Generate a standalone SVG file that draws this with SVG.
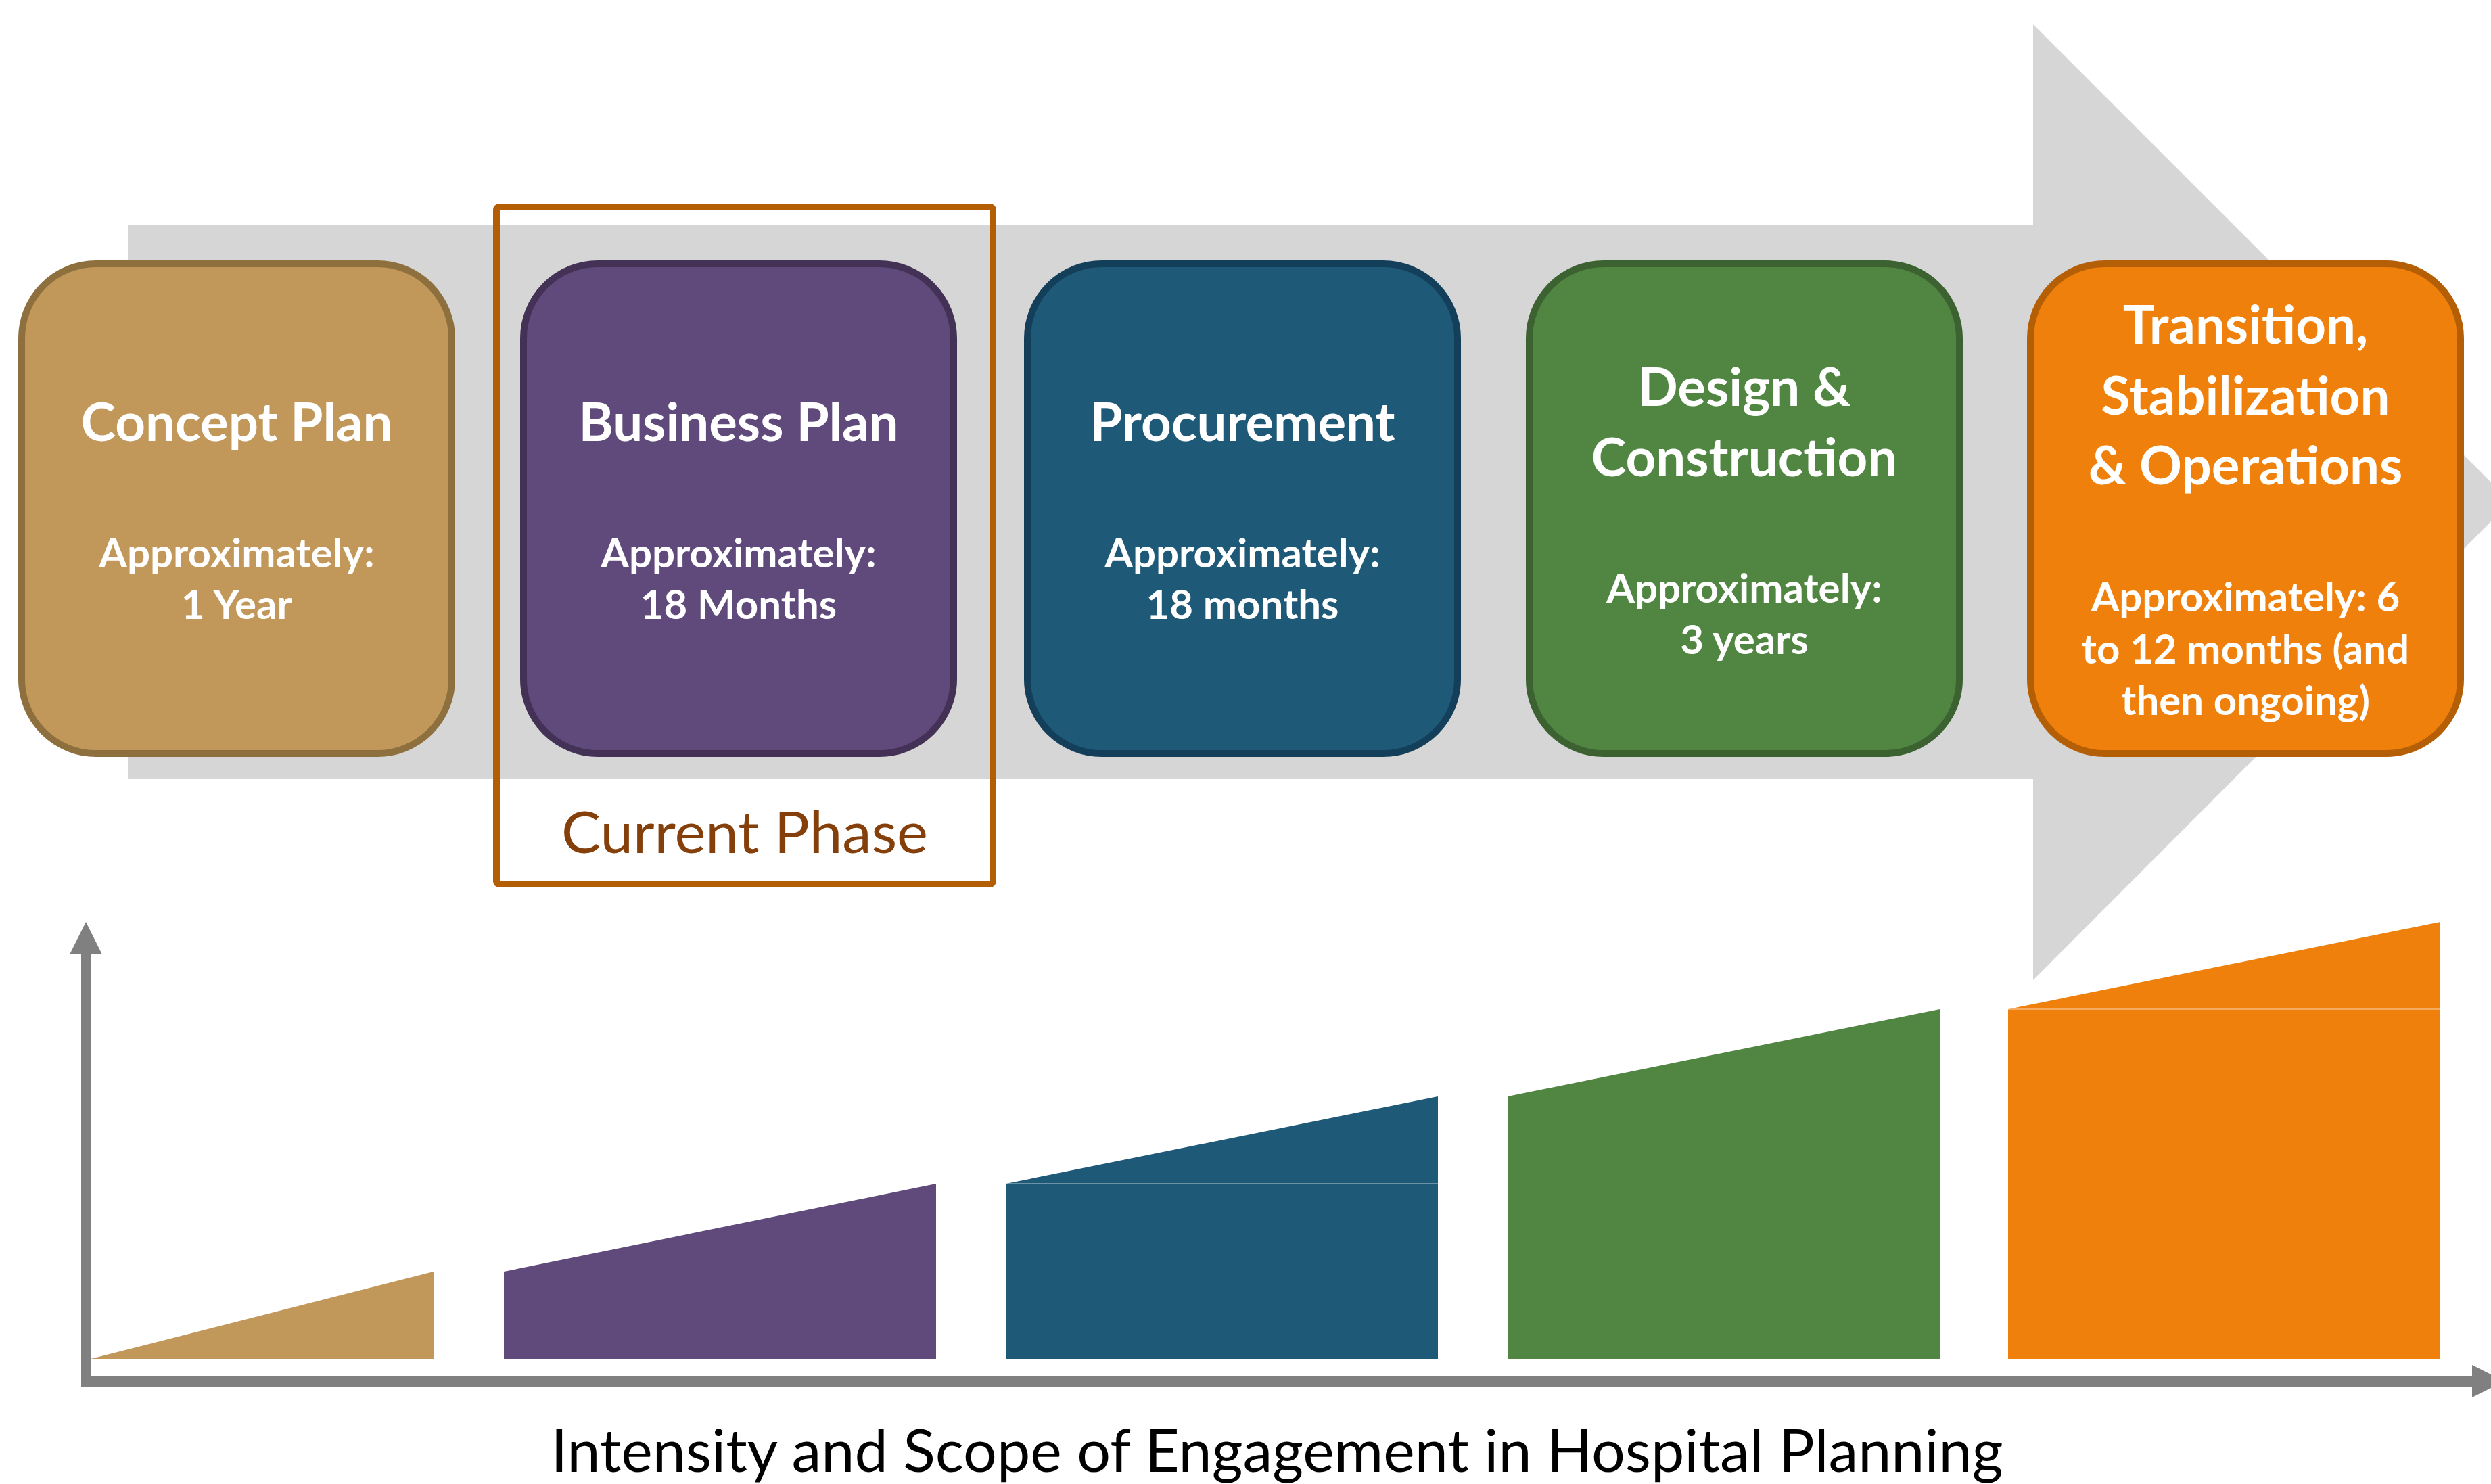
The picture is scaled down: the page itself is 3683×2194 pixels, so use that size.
<svg xmlns="http://www.w3.org/2000/svg" width="3683" height="2194" viewBox="0 0 3683 2194">
<style>
.box{stroke-width:10}
.t{font-family:Lato,"Open Sans","Liberation Sans",sans-serif;font-weight:700;fill:#ffffff;text-anchor:middle}
.h{font-size:78px}
.s{font-size:60px}
.axis{fill:#808080}
.seam{stroke:#ffffff;stroke-opacity:0.35;stroke-width:2}
</style>
<rect width="3683" height="2194" fill="#ffffff"/>
<g id="flow-arrow">
<polygon points="189,333 3006,333 3006,36 3712,742 3006,1449 3006,1151 189,1151" fill="#d6d6d6"/>
</g>
<g id="current-phase">
<rect x="734" y="306" width="734" height="1001" rx="4" fill="none" stroke="#b35d05" stroke-width="10"/>
<text x="1101" y="1261" font-family="Lato,'Open Sans','Liberation Sans',sans-serif" font-size="86" fill="#843f0a" text-anchor="middle" textLength="542" lengthAdjust="spacingAndGlyphs">Current Phase</text>
</g>
<g id="concept-plan">
<rect class="box" x="32" y="390" width="636" height="724" rx="110" fill="#c19859" stroke="#8e6f3e"/>
<text class="t h" x="350" y="652">Concept Plan</text>
<text class="t s" x="350" y="839">Approximately:</text>
<text class="t s" x="350" y="915">1 Year</text>
</g>
<g id="business-plan">
<rect class="box" x="774" y="390" width="636" height="724" rx="110" fill="#604a7b" stroke="#433256"/>
<text class="t h" x="1092" y="652">Business Plan</text>
<text class="t s" x="1092" y="839">Approximately:</text>
<text class="t s" x="1092" y="915">18 Months</text>
</g>
<g id="procurement">
<rect class="box" x="1519" y="390" width="636" height="724" rx="110" fill="#1f5978" stroke="#143f5a"/>
<text class="t h" x="1837" y="652">Procurement</text>
<text class="t s" x="1837" y="839">Approximately:</text>
<text class="t s" x="1837" y="915">18 months</text>
</g>
<g id="design-construction">
<rect class="box" x="2261" y="390" width="636" height="724" rx="110" fill="#508642" stroke="#3b6230"/>
<text class="t h" x="2579" y="600">Design &amp;</text>
<text class="t h" x="2579" y="704">Construction</text>
<text class="t s" x="2579" y="891">Approximately:</text>
<text class="t s" x="2579" y="967">3 years</text>
</g>
<g id="transition">
<rect class="box" x="3002" y="390" width="636" height="724" rx="110" fill="#ef800c" stroke="#b45f06"/>
<text class="t h" x="3320" y="508">Transition,</text>
<text class="t h" x="3320" y="613">Stabilization</text>
<text class="t h" x="3320" y="716">&amp; Operations</text>
<text class="t s" x="3320" y="904">Approximately: 6</text>
<text class="t s" x="3320" y="981">to 12 months (and</text>
<text class="t s" x="3320" y="1057">then ongoing)</text>
</g>
<g id="bars">
<polygon points="134,2009 641,1880 641,2009" fill="#c19859"/>
<polygon points="745,2009 745,1880 1384,1750 1384,2009" fill="#604a7b"/>
<rect x="1487" y="1750" width="639" height="259" fill="#1f5978"/>
<polygon points="1487,1750 2126,1621 2126,1750" fill="#1f5978"/>
<line class="seam" x1="1487" y1="1750" x2="2126" y2="1750"/>
<polygon points="2229,2009 2229,1621 2868,1492 2868,2009" fill="#508642"/>
<rect x="2969" y="1492" width="639" height="517" fill="#ef800c"/>
<polygon points="2969,1492 3608,1363 3608,1492" fill="#ef800c"/>
<line class="seam" x1="2969" y1="1492" x2="3608" y2="1492"/>
</g>
<g id="connectors">
<rect class="axis" x="120" y="1405" width="15" height="644"/>
<polygon class="axis" points="103,1411 151,1411 127,1363"/>
<rect class="axis" x="120" y="2034" width="3540" height="16"/>
<polygon class="axis" points="3655,2018 3655,2066 3703,2042"/>
</g>
<text x="1888" y="2176" font-family="Lato,'Open Sans','Liberation Sans',sans-serif" font-size="88" fill="#000000" text-anchor="middle" textLength="2147" lengthAdjust="spacingAndGlyphs">Intensity and Scope of Engagement in Hospital Planning</text>
</svg>
